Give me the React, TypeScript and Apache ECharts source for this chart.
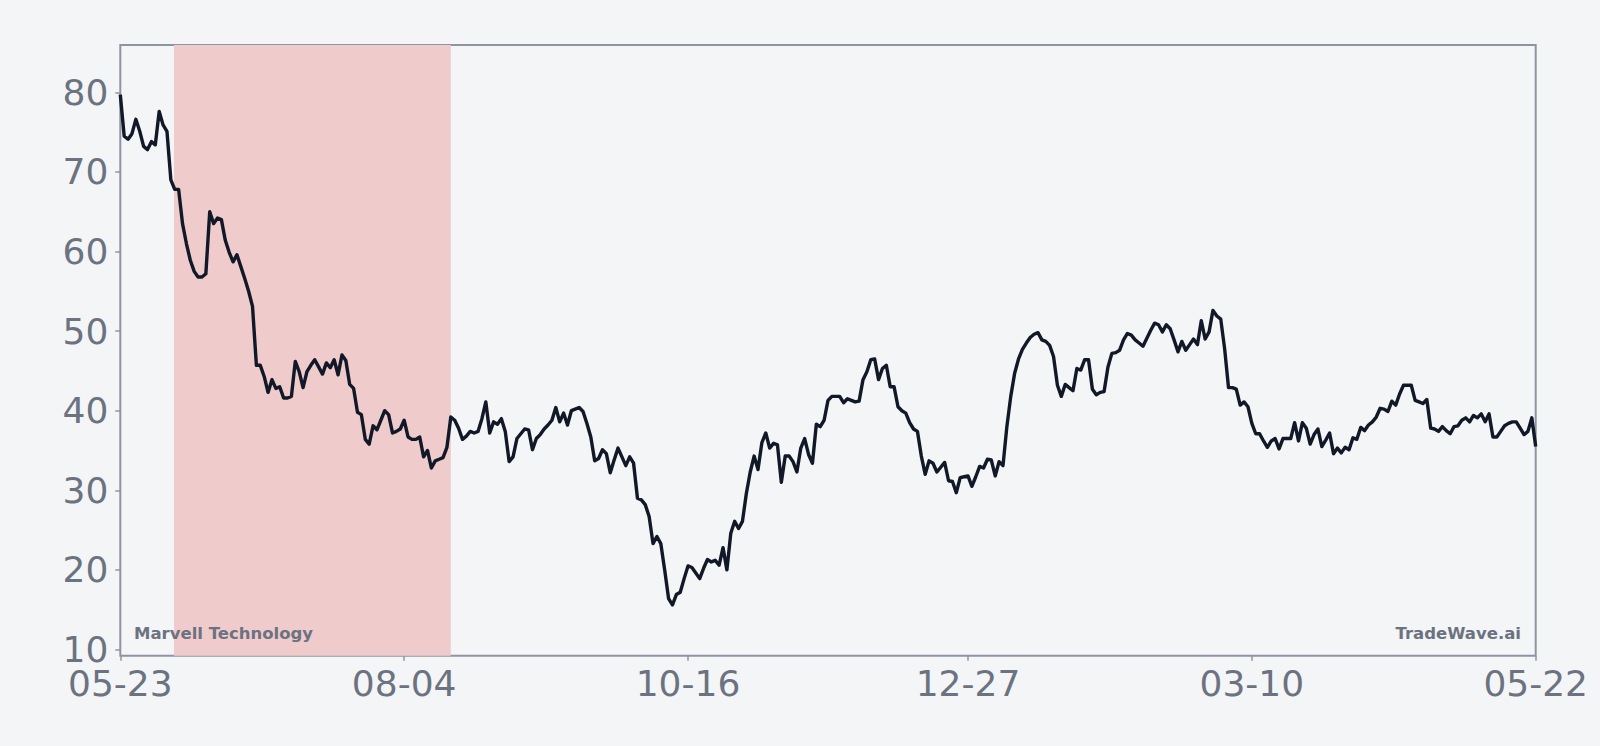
import React, { useEffect, useRef } from "react";
import * as echarts from "echarts";

// ---- data ----
const startDate = "2024-05-23";
const dayCount = 365;
const xTickIdx = [0, 73, 146, 218, 291, 364];
const yTicks = [10, 20, 30, 40, 50, 60, 70, 80];
const shadeRange = [13.8, 85.0];
const companyName = "Marvell Technology";
const brandName = "TradeWave.ai";

const prices = [
  79.7, 74.5, 74.1, 74.8, 76.6, 75.1, 73.2, 72.8, 73.8, 73.4,
  77.6, 75.9, 75.1, 69.0, 67.8, 67.8, 63.5, 61.0, 58.9, 57.5,
  56.8, 56.8, 57.2, 65.0, 63.5, 64.2, 64.0, 61.4, 59.9, 58.7,
  59.6, 58.1, 56.6, 55.0, 53.1, 45.7, 45.7, 44.3, 42.3, 43.9,
  42.8, 43.0, 41.6, 41.6, 41.8, 46.2, 44.9, 42.9, 44.9, 45.7,
  46.4, 45.5, 44.6, 46.0, 45.4, 46.4, 44.5, 47.0, 46.3, 43.3,
  42.8, 39.8, 39.5, 36.4, 35.8, 38.1, 37.6, 38.8, 40.0, 39.5,
  37.2, 37.4, 37.7, 38.8, 36.7, 36.4, 36.4, 36.7, 34.2, 35.0,
  32.8, 33.7, 33.9, 34.1, 35.4, 39.2, 38.8, 37.8, 36.4, 36.8,
  37.4, 37.2, 37.4, 39.0, 41.1, 37.2, 38.6, 38.3, 39.0, 37.4,
  33.6, 34.2, 36.5, 37.1, 37.7, 37.6, 35.1, 36.5, 37.0, 37.7,
  38.2, 38.8, 40.4, 38.6, 39.7, 38.2, 40.0, 40.2, 40.4, 39.9,
  38.4, 36.7, 33.7, 34.0, 35.1, 34.6, 32.2, 33.8, 35.3, 34.2,
  33.1, 34.2, 33.4, 29.0, 28.8, 28.2, 26.7, 23.3, 24.2, 23.3,
  20.0, 16.4, 15.6, 16.9, 17.2, 18.9, 20.5, 20.3, 19.6, 18.9,
  20.2, 21.3, 21.0, 21.2, 20.6, 22.8, 20.0, 24.6, 26.1, 25.2,
  26.1, 29.6, 32.3, 34.3, 32.6, 36.0, 37.2, 35.3, 35.9, 35.7,
  31.0, 34.3, 34.3, 33.6, 32.3, 35.3, 36.5, 34.5, 33.4, 38.3,
  38.0, 38.8, 41.3, 41.8, 41.8, 41.8, 41.0, 41.5, 41.3, 41.1,
  41.2, 43.9, 44.9, 46.4, 46.5, 43.9, 45.3, 45.7, 43.0, 43.0,
  40.5, 40.0, 39.7, 38.5, 37.7, 37.4, 34.3, 32.0, 33.7, 33.4,
  32.3, 32.9, 33.5, 31.2, 31.1, 29.7, 31.6, 31.7, 31.8, 30.5,
  31.7, 33.0, 32.8, 33.9, 33.8, 31.8, 33.6, 33.1, 38.0, 41.8,
  44.7, 46.5, 47.7, 48.5, 49.2, 49.6, 49.8, 48.9, 48.7, 48.2,
  46.8, 43.2, 41.8, 43.3, 42.9, 42.5, 45.3, 45.1, 46.4, 46.4,
  42.7, 42.0, 42.3, 42.4, 45.5, 47.2, 47.3, 47.6, 48.9, 49.7,
  49.5, 48.9, 48.5, 48.1, 49.1, 50.1, 51.0, 50.8, 49.9, 50.8,
  50.3, 48.9, 47.4, 48.7, 47.6, 48.3, 49.0, 48.3, 51.3, 49.0,
  49.9, 52.6, 51.9, 51.5, 47.8, 42.9, 42.9, 42.7, 40.7, 41.1,
  40.5, 38.4, 37.1, 37.1, 36.2, 35.4, 36.2, 36.5, 35.2, 36.5,
  36.5, 36.5, 38.5, 36.2, 38.5, 37.8, 35.8, 37.0, 37.7, 35.5,
  36.3, 37.2, 34.6, 35.3, 34.7, 35.4, 35.1, 36.6, 36.4, 37.9,
  37.5, 38.2, 38.6, 39.2, 40.3, 40.2, 39.9, 41.2, 40.7, 42.1,
  43.2, 43.2, 43.2, 41.3, 41.1, 40.9, 41.4, 37.8, 37.7, 37.4,
  38.0, 37.5, 37.1, 38.0, 38.1, 38.8, 39.1, 38.6, 39.4, 39.1,
  39.6, 38.6, 39.6, 36.7, 36.7, 37.4, 38.1, 38.4, 38.6, 38.6,
  37.8, 37.0, 37.4, 39.1, 35.5,
];

function buildDates(start: string, n: number): string[] {
  const out: string[] = [];
  const d0 = new Date(start + "T00:00:00Z");
  for (let i = 0; i < n; i++) {
    const d = new Date(d0.getTime() + i * 86400000);
    const mm = String(d.getUTCMonth() + 1).padStart(2, "0");
    const dd = String(d.getUTCDate()).padStart(2, "0");
    out.push(`${mm}-${dd}`);
  }
  return out;
}

const dates = buildDates(startDate, dayCount);

const FONT = "DejaVu Sans";
const TEXT_GRAY = "#6b7280";
const FRAME = "#9094a0";

export default function App() {
  const ref = useRef<HTMLDivElement>(null);

  useEffect(() => {
    if (!ref.current) return;
    const chart = echarts.init(ref.current, null, { renderer: "svg" });
    const seriesData = prices.map((v, i) => [i, v]);
    chart.setOption({
      animation: false,
      backgroundColor: "#f4f5f7",
      grid: {
        left: 120.3,
        right: 64.3,
        top: 45,
        bottom: 90.3,
        show: true,
        borderColor: FRAME,
        borderWidth: 2,
        backgroundColor: "transparent",
      },
      xAxis: {
        type: "value",
        min: 0,
        max: dayCount - 1,
        axisLine: { show: false },
        splitLine: { show: false },
        axisTick: {
          show: true,
          length: 5,
          customValues: xTickIdx,
          lineStyle: { color: FRAME, width: 1.5 },
        },
        axisLabel: {
          customValues: xTickIdx,
          formatter: (v: number) => dates[Math.round(v)] ?? "",
          color: TEXT_GRAY,
          fontFamily: FONT,
          fontSize: 36,
          margin: 10,
        },
      },
      yAxis: {
        type: "value",
        min: 9.22,
        max: 85.94,
        axisLine: { show: false },
        splitLine: { show: false },
        axisTick: {
          show: true,
          length: 5,
          customValues: yTicks,
          lineStyle: { color: FRAME, width: 1.5 },
        },
        axisLabel: {
          customValues: yTicks,
          formatter: (v: number) => String(Math.round(v)),
          color: TEXT_GRAY,
          fontFamily: FONT,
          fontSize: 36,
          margin: 12,
        },
      },
      series: [
        {
          type: "line",
          data: seriesData,
          showSymbol: false,
          lineStyle: { color: "#111827", width: 3.4, join: "round" },
          z: 3,
          markArea: {
            silent: true,
            itemStyle: { color: "rgb(240,203,204)" },
            data: [[{ xAxis: shadeRange[0] }, { xAxis: shadeRange[1] }]],
          },
        },
      ],
      graphic: [
        {
          type: "text",
          left: 134,
          top: 625,
          z: 10,
          style: {
            text: companyName,
            font: `bold 16.5px '${FONT}'`,
            fill: TEXT_GRAY,
          },
        },
        {
          type: "text",
          right: 79,
          top: 625,
          z: 10,
          style: {
            text: brandName,
            font: `bold 16.5px '${FONT}'`,
            fill: TEXT_GRAY,
          },
        },
      ],
    });
    return () => chart.dispose();
  }, []);

  return (
    <div
      ref={ref}
      style={{ position: "fixed", left: 0, top: 0, width: 1600, height: 746 }}
    />
  );
}
